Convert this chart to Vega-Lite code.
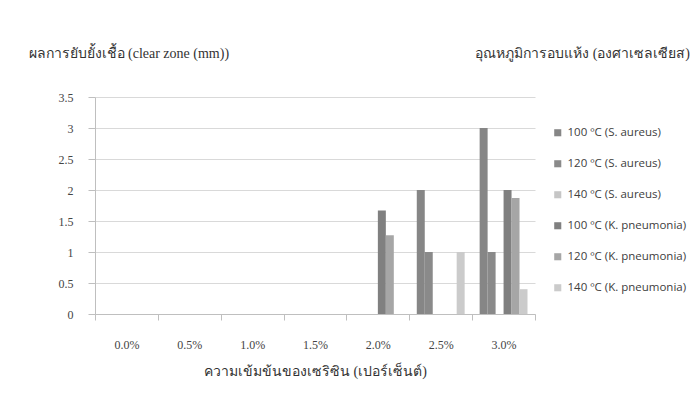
{
  "$schema": "https://vega.github.io/schema/vega-lite/v6.json",
  "width": 440,
  "height": 217,
  "autosize": {"type": "none"},
  "padding": {"left": 95, "top": 97, "right": 162, "bottom": 82},
  "background": "white",
  "title": {
    "text": "อุณหภูมิการอบแห้ง (องศาเซลเซียส)",
    "anchor": "end",
    "frame": "group",
    "orient": "top",
    "dx": 155,
    "offset": 0,
    "dy": 15,
    "font": "Liberation Serif",
    "fontSize": 14,
    "fontWeight": "normal",
    "color": "#333333"
  },
  "data": {
    "values": [
      {"conc": "0.0%", "series": "100 ºC (S. aureus)", "value": 0},
      {"conc": "0.0%", "series": "120 ºC (S. aureus)", "value": 0},
      {"conc": "0.0%", "series": "140 ºC (S. aureus)", "value": 0},
      {"conc": "0.0%", "series": "100 ºC (K. pneumonia)", "value": 0},
      {"conc": "0.0%", "series": "120 ºC (K. pneumonia)", "value": 0},
      {"conc": "0.0%", "series": "140 ºC (K. pneumonia)", "value": 0},
      {"conc": "0.5%", "series": "100 ºC (S. aureus)", "value": 0},
      {"conc": "0.5%", "series": "120 ºC (S. aureus)", "value": 0},
      {"conc": "0.5%", "series": "140 ºC (S. aureus)", "value": 0},
      {"conc": "0.5%", "series": "100 ºC (K. pneumonia)", "value": 0},
      {"conc": "0.5%", "series": "120 ºC (K. pneumonia)", "value": 0},
      {"conc": "0.5%", "series": "140 ºC (K. pneumonia)", "value": 0},
      {"conc": "1.0%", "series": "100 ºC (S. aureus)", "value": 0},
      {"conc": "1.0%", "series": "120 ºC (S. aureus)", "value": 0},
      {"conc": "1.0%", "series": "140 ºC (S. aureus)", "value": 0},
      {"conc": "1.0%", "series": "100 ºC (K. pneumonia)", "value": 0},
      {"conc": "1.0%", "series": "120 ºC (K. pneumonia)", "value": 0},
      {"conc": "1.0%", "series": "140 ºC (K. pneumonia)", "value": 0},
      {"conc": "1.5%", "series": "100 ºC (S. aureus)", "value": 0},
      {"conc": "1.5%", "series": "120 ºC (S. aureus)", "value": 0},
      {"conc": "1.5%", "series": "140 ºC (S. aureus)", "value": 0},
      {"conc": "1.5%", "series": "100 ºC (K. pneumonia)", "value": 0},
      {"conc": "1.5%", "series": "120 ºC (K. pneumonia)", "value": 0},
      {"conc": "1.5%", "series": "140 ºC (K. pneumonia)", "value": 0},
      {"conc": "2.0%", "series": "100 ºC (S. aureus)", "value": 0},
      {"conc": "2.0%", "series": "120 ºC (S. aureus)", "value": 0},
      {"conc": "2.0%", "series": "140 ºC (S. aureus)", "value": 0},
      {"conc": "2.0%", "series": "100 ºC (K. pneumonia)", "value": 1.67},
      {"conc": "2.0%", "series": "120 ºC (K. pneumonia)", "value": 1.27},
      {"conc": "2.0%", "series": "140 ºC (K. pneumonia)", "value": 0},
      {"conc": "2.5%", "series": "100 ºC (S. aureus)", "value": 2},
      {"conc": "2.5%", "series": "120 ºC (S. aureus)", "value": 1},
      {"conc": "2.5%", "series": "140 ºC (S. aureus)", "value": 0},
      {"conc": "2.5%", "series": "100 ºC (K. pneumonia)", "value": 0},
      {"conc": "2.5%", "series": "120 ºC (K. pneumonia)", "value": 0},
      {"conc": "2.5%", "series": "140 ºC (K. pneumonia)", "value": 1},
      {"conc": "3.0%", "series": "100 ºC (S. aureus)", "value": 3},
      {"conc": "3.0%", "series": "120 ºC (S. aureus)", "value": 1},
      {"conc": "3.0%", "series": "140 ºC (S. aureus)", "value": 0},
      {"conc": "3.0%", "series": "100 ºC (K. pneumonia)", "value": 2},
      {"conc": "3.0%", "series": "120 ºC (K. pneumonia)", "value": 1.87},
      {"conc": "3.0%", "series": "140 ºC (K. pneumonia)", "value": 0.4}
    ]
  },
  "mark": {"type": "bar", "stroke": null},
  "encoding": {
    "x": {
      "field": "conc",
      "type": "nominal",
      "sort": null,
      "scale": {"paddingInner": 0, "paddingOuter": 0},
      "axis": {
        "title": "ความเข้มข้นของเซริซิน (เปอร์เซ็นต์)",
        "labelAngle": 0,
        "labelFont": "Liberation Serif",
        "labelFontSize": 12,
        "labelColor": "#444444",
        "labelPadding": 19,
        "tickBand": "extent",
        "tickSize": 6,
        "tickColor": "#bfbfbf",
        "domainColor": "#bfbfbf",
        "titleFont": "Liberation Serif",
        "titleFontSize": 14,
        "titleFontWeight": "normal",
        "titleColor": "#333333",
        "titlePadding": 14
      }
    },
    "xOffset": {
      "field": "series",
      "type": "nominal",
      "sort": null,
      "scale": {"paddingInner": 0, "paddingOuter": 0.94}
    },
    "y": {
      "field": "value",
      "type": "quantitative",
      "scale": {"domain": [0, 3.5]},
      "axis": {
        "values": [0, 0.5, 1, 1.5, 2, 2.5, 3, 3.5],
        "format": "~g",
        "title": "ผลการยับยั้งเชื้อ (clear zone (mm))",
        "titleAngle": 0,
        "titleX": -67,
        "titleY": -44,
        "titleAlign": "left",
        "titleBaseline": "middle",
        "titleFont": "Liberation Serif",
        "titleFontSize": 14,
        "titleFontWeight": "normal",
        "titleColor": "#333333",
        "labelFont": "Liberation Serif",
        "labelFontSize": 12,
        "labelColor": "#444444",
        "labelPadding": 15,
        "tickSize": 7,
        "tickColor": "#bfbfbf",
        "domainColor": "#bfbfbf",
        "gridColor": "#d9d9d9"
      }
    },
    "color": {
      "field": "series",
      "type": "nominal",
      "sort": null,
      "scale": {
        "domain": ["100 ºC (S. aureus)", "120 ºC (S. aureus)", "140 ºC (S. aureus)", "100 ºC (K. pneumonia)", "120 ºC (K. pneumonia)", "140 ºC (K. pneumonia)"],
        "range": ["#868686", "#8a8a8a", "#c6c6c6", "#808080", "#a6a6a6", "#cbcbcb"]
      },
      "legend": {
        "title": null,
        "orient": "none",
        "legendX": 457,
        "legendY": 30,
        "symbolType": "square",
        "symbolSize": 50,
        "symbolStrokeWidth": 0,
        "labelFont": "Open Sans",
        "labelFontSize": 11.5,
        "labelColor": "#404040",
        "labelOffset": 4,
        "rowPadding": 18
      }
    }
  },
  "config": {
    "view": {"stroke": null},
    "axis": {"gridWidth": 1}
  }
}
